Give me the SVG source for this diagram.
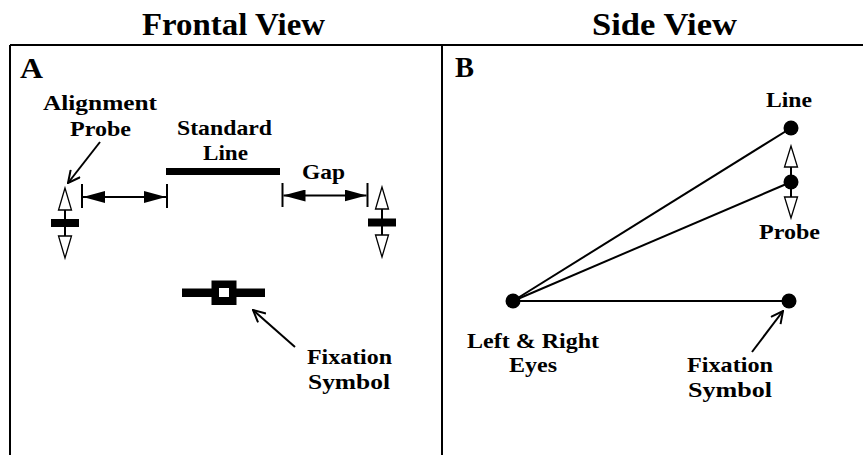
<svg xmlns="http://www.w3.org/2000/svg" width="863" height="455" viewBox="0 0 863 455">
<style>
text{font-family:"Liberation Serif","Times New Roman",serif;font-weight:bold;fill:#000}
.t{font-size:22px}
.title{font-size:31px}
.lab{font-size:30px}
.ln{stroke:#000;stroke-width:2;fill:none}
.frame{stroke:#000;stroke-width:2;fill:none}
.hol{fill:#fff;stroke:#000;stroke-width:1.3}
.blk{fill:#000}
</style>
<defs>
<marker id="vhead" viewBox="0 0 14 14" refX="13" refY="7" markerWidth="14" markerHeight="14" markerUnits="userSpaceOnUse" orient="auto">
<path d="M1,1 L13,7 L1,13" fill="none" stroke="#000" stroke-width="2"/>
</marker>
<marker id="fhead" viewBox="0 0 22 12" refX="22" refY="6" markerWidth="22" markerHeight="12" markerUnits="userSpaceOnUse" orient="auto-start-reverse">
<path d="M0,0 L22,6 L0,12 Z" fill="#000"/>
</marker>
</defs>

<g id="frame">
<path class="frame" d="M10,45 H863 M10,45 V455 M442,45 V455"/>
</g>

<g id="titles">
<text class="title" x="142" y="35" textLength="183" lengthAdjust="spacingAndGlyphs">Frontal View</text>
<text class="title" x="592" y="35" textLength="145" lengthAdjust="spacingAndGlyphs">Side View</text>
</g>

<g id="panelA">
<text class="lab" x="20" y="78" textLength="23" lengthAdjust="spacingAndGlyphs">A</text>

<g id="alignment-label">
<text class="t" x="43" y="110" textLength="114" lengthAdjust="spacingAndGlyphs">Alignment</text>
<text class="t" x="70" y="136" textLength="61" lengthAdjust="spacingAndGlyphs">Probe</text>
</g>

<g id="standard-line">
<text class="t" x="177" y="135" textLength="95" lengthAdjust="spacingAndGlyphs">Standard</text>
<text class="t" x="203" y="160" textLength="45" lengthAdjust="spacingAndGlyphs">Line</text>
<rect class="blk" x="166" y="168" width="114" height="7"/>
</g>

<g id="gap-label">
<text class="t" x="302" y="179" textLength="43" lengthAdjust="spacingAndGlyphs">Gap</text>
</g>

<g id="left-probe">
<polygon class="hol" points="65,188 58.5,210 71.5,210"/>
<line class="ln" x1="65" y1="210" x2="65" y2="236"/>
<rect class="blk" x="51" y="219" width="28" height="8"/>
<polygon class="hol" points="58.5,236 71.5,236 65,258"/>
</g>

<g id="right-probe">
<polygon class="hol" points="382,187 375.5,209 388.5,209"/>
<line class="ln" x1="382" y1="209" x2="382" y2="235"/>
<rect class="blk" x="368" y="218.5" width="28" height="8"/>
<polygon class="hol" points="375.5,235 388.5,235 382,257"/>
</g>

<g id="fixation-symbol-A">
<rect class="blk" x="182" y="288.5" width="83" height="8.5"/>
<rect class="blk" x="211.5" y="280.5" width="25" height="24.5"/>
<rect x="219" y="288" width="10" height="9" fill="#fff"/>
<text class="t" x="307" y="364" textLength="85" lengthAdjust="spacingAndGlyphs">Fixation</text>
<text class="t" x="308" y="389" textLength="82" lengthAdjust="spacingAndGlyphs">Symbol</text>
</g>
</g>

<g id="panelB">
<text class="lab" x="455" y="77" textLength="19" lengthAdjust="spacingAndGlyphs">B</text>

<g id="eyes">
<circle class="blk" cx="513" cy="301" r="7.5"/>
<text class="t" x="467" y="348" textLength="132" lengthAdjust="spacingAndGlyphs">Left &amp; Right</text>
<text class="t" x="509" y="372" textLength="48" lengthAdjust="spacingAndGlyphs">Eyes</text>
</g>

<g id="line-point">
<circle class="blk" cx="791" cy="128" r="7.5"/>
<text class="t" x="766" y="107" textLength="46" lengthAdjust="spacingAndGlyphs">Line</text>
</g>

<g id="probe-point">
<polygon class="hol" points="791,146 784.5,167 797.5,167"/>
<line class="ln" x1="791" y1="167" x2="791" y2="197"/>
<circle class="blk" cx="791" cy="182" r="7.5"/>
<polygon class="hol" points="784.5,197 797.5,197 791,218"/>
<text class="t" x="759" y="239" textLength="61" lengthAdjust="spacingAndGlyphs">Probe</text>
</g>

<g id="fixation-point">
<circle class="blk" cx="789" cy="301" r="7.5"/>
<text class="t" x="687" y="372" textLength="86" lengthAdjust="spacingAndGlyphs">Fixation</text>
<text class="t" x="688" y="397" textLength="84" lengthAdjust="spacingAndGlyphs">Symbol</text>
</g>
</g>

<g id="connectors">
<line class="ln" x1="100" y1="142" x2="68" y2="183" marker-end="url(#vhead)"/>
<line class="ln" x1="82" y1="184" x2="82" y2="208"/>
<line class="ln" x1="167" y1="184" x2="167" y2="208"/>
<line class="ln" x1="83" y1="197" x2="166" y2="197" stroke-width="1.5" marker-start="url(#fhead)" marker-end="url(#fhead)"/>
<line class="ln" x1="282.5" y1="183" x2="282.5" y2="207"/>
<line class="ln" x1="367.5" y1="183" x2="367.5" y2="207"/>
<line class="ln" x1="283.5" y1="195.5" x2="366.5" y2="195.5" stroke-width="1.5" marker-start="url(#fhead)" marker-end="url(#fhead)"/>
<line class="ln" x1="295" y1="347" x2="253" y2="310" marker-end="url(#vhead)"/>
<line class="ln" x1="513" y1="301" x2="791" y2="128"/>
<line class="ln" x1="513" y1="301" x2="791" y2="182"/>
<line class="ln" x1="513" y1="301" x2="789" y2="301"/>
<line class="ln" x1="752" y1="352" x2="783" y2="311" marker-end="url(#vhead)"/>
</g>
</svg>
